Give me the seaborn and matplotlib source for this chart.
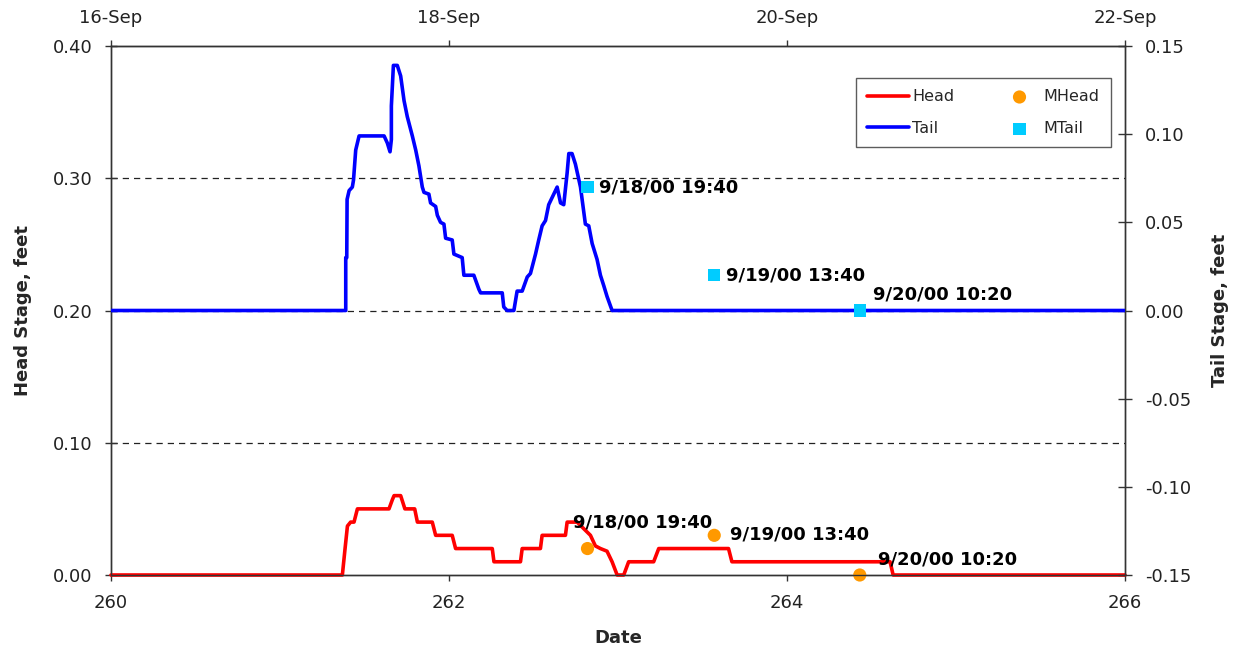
import numpy as np
import pandas as pd
import matplotlib
matplotlib.use("Agg")
import matplotlib.pyplot as plt
import seaborn as sns

# Tail (downstream) stage record, day of year 2000 vs feet
tail_day = [260.000, 261.389, 261.389, 261.395, 261.397, 261.409, 261.428, 261.435,
            261.448, 261.468, 261.616, 261.635, 261.651, 261.659, 261.659, 261.671,
            261.694, 261.714, 261.734, 261.753, 261.783, 261.803, 261.822, 261.842,
            261.852, 261.881, 261.891, 261.921, 261.931, 261.950, 261.970, 261.980,
            262.019, 262.029, 262.078, 262.088, 262.147, 262.177, 262.187, 262.315,
            262.324, 262.344, 262.384, 262.403, 262.433, 262.463, 262.482, 262.512,
            262.531, 262.551, 262.571, 262.590, 262.620, 262.640, 262.660, 262.679,
            262.699, 262.709, 262.728, 262.748, 262.778, 262.807, 262.827, 262.847,
            262.876, 262.896, 262.916, 262.935, 262.965, 266.000]
tail_ft = [0.000, 0.000, 0.030, 0.030, 0.063, 0.068, 0.070, 0.074,
           0.091, 0.099, 0.099, 0.095, 0.090, 0.097, 0.116, 0.139,
           0.139, 0.133, 0.119, 0.110, 0.099, 0.091, 0.082, 0.070,
           0.067, 0.066, 0.061, 0.059, 0.054, 0.050, 0.049, 0.041,
           0.040, 0.032, 0.030, 0.020, 0.020, 0.012, 0.010, 0.010,
           0.002, 0.000, 0.000, 0.011, 0.011, 0.019, 0.021, 0.032,
           0.040, 0.048, 0.051, 0.060, 0.066, 0.070, 0.061, 0.060,
           0.078, 0.089, 0.089, 0.083, 0.070, 0.049, 0.048, 0.038,
           0.029, 0.020, 0.014, 0.008, 0.000, 0.000]

# Head (upstream) stage record, day of year 2000 vs feet
head_day = [260.000, 261.369, 261.385, 261.399, 261.418, 261.438, 261.458, 261.645,
            261.665, 261.675, 261.714, 261.739, 261.797, 261.813, 261.901, 261.921,
            262.019, 262.039, 262.256, 262.266, 262.423, 262.433, 262.541, 262.551,
            262.689, 262.699, 262.758, 262.837, 262.866, 262.896, 262.935, 262.965,
            262.995, 263.034, 263.063, 263.211, 263.241, 263.654, 263.674, 264.610,
            264.628, 266.000]
head_ft = [0.000, 0.000, 0.020, 0.037, 0.040, 0.040, 0.050, 0.050,
           0.057, 0.060, 0.060, 0.050, 0.050, 0.040, 0.040, 0.030,
           0.030, 0.020, 0.020, 0.010, 0.010, 0.020, 0.020, 0.030,
           0.030, 0.040, 0.040, 0.030, 0.022, 0.020, 0.018, 0.010,
           0.000, 0.000, 0.010, 0.010, 0.020, 0.020, 0.010, 0.010,
           0.000, 0.000]

# Manual staff-gauge readings
meas_time = ["9/18/00 19:40", "9/19/00 13:40", "9/20/00 10:20"]
mhead_ft = [0.02, 0.03, 0.00]
mtail_ft = [0.07, 0.02, 0.00]

date_ticks = [260, 262, 264, 266]
date_labels = ["16-Sep", "18-Sep", "20-Sep", "22-Sep"]
head_ticks = [0.00, 0.10, 0.20, 0.30, 0.40]
tail_ticks = [-0.15, -0.10, -0.05, 0.00, 0.05, 0.10, 0.15]

ts = pd.to_datetime(meas_time, format="%m/%d/%y %H:%M")
meas_day = list(ts.dayofyear + (ts.hour + ts.minute / 60.0) / 24.0)

sns.set_style("white")
plt.rcParams["font.family"] = ["DejaVu Sans"]
plt.rcParams["axes.unicode_minus"] = False

TXT = "#222222"
SPINE = "#333333"

fig = plt.figure(figsize=(12.41, 6.5), dpi=100)
ax = fig.add_axes([111 / 1241, 75 / 650, 1014 / 1241, 529 / 650])
ax2 = ax.twinx()

for y in [0.1, 0.2, 0.3]:
    ax.axhline(y, color="#222222", lw=0.9, ls=(0, (5, 4)), zorder=0)

sns.lineplot(x=head_day, y=head_ft, ax=ax, color="#FF0000", lw=2.6,
             estimator=None, sort=False, label="Head", legend=False,
             clip_on=False, zorder=3)
sns.scatterplot(x=meas_day, y=mhead_ft, ax=ax, color="#FF9900", marker="o",
                s=90, edgecolor="none", label="MHead", legend=False,
                clip_on=False, zorder=5)

sns.lineplot(x=tail_day, y=tail_ft, ax=ax2, color="#0000FF", lw=2.6,
             estimator=None, sort=False, label="Tail", legend=False, zorder=3)
sns.scatterplot(x=meas_day, y=mtail_ft, ax=ax2, color="#00CCFF", marker="s",
                s=80, edgecolor="none", label="MTail", legend=False, zorder=5)

# Time-stamp callouts next to each reading
tail_off = [(12, 0), (12, 0), (13, 16)]
head_off = [(-14, 26), (16, 1), (18, 16)]
for i, t in enumerate(meas_time):
    ax2.annotate(t, (meas_day[i], mtail_ft[i]), xytext=tail_off[i],
                 textcoords="offset pixels", fontsize=13, fontweight="bold",
                 ha="left", va="center", color="black", zorder=6)
    ax.annotate(t, (meas_day[i], mhead_ft[i]), xytext=head_off[i],
                textcoords="offset pixels", fontsize=13, fontweight="bold",
                ha="left", va="center", color="black", zorder=6)

ax.set_xlim(260, 266)
ax.set_ylim(0, 0.4)
ax2.set_ylim(-0.15, 0.15)
ax.set_xticks(date_ticks)
ax.set_yticks(head_ticks)
ax2.set_yticks(tail_ticks)
ax.yaxis.set_major_formatter(matplotlib.ticker.FormatStrFormatter("%.2f"))
ax2.yaxis.set_major_formatter(matplotlib.ticker.FormatStrFormatter("%.2f"))

ax.tick_params(axis="y", left=True, direction="inout", length=8, width=1,
               pad=9.5, labelsize=13, labelcolor=TXT, color=SPINE)
ax.tick_params(axis="x", bottom=True, direction="out", length=4.5, width=1,
               pad=9.5, labelsize=13, labelcolor=TXT, color=SPINE)
ax2.tick_params(axis="y", right=True, direction="inout", length=10, width=1,
                pad=9.5, labelsize=13, labelcolor=TXT, color=SPINE)

top = ax.secondary_xaxis("top")
top.set_xticks(date_ticks, labels=date_labels)
top.tick_params(axis="x", top=True, direction="out", length=4, width=1,
                pad=10, labelsize=13, labelcolor=TXT, color=SPINE)
for s in top.spines.values():
    s.set_color(SPINE)

for a in (ax, ax2):
    for s in a.spines.values():
        s.set_color(SPINE)
        s.set_linewidth(1.0)
        s.set_visible(True)

ax.set_xlabel("Date", fontsize=13, fontweight="bold", labelpad=12)
ax.set_ylabel("Head Stage, feet", fontsize=13, fontweight="bold", labelpad=15)
ax2.set_ylabel("Tail Stage, feet", fontsize=13, fontweight="bold", labelpad=14)

h1, l1 = ax.get_legend_handles_labels()
h2, l2 = ax2.get_legend_handles_labels()
hd = dict(zip(l1 + l2, h1 + h2))
order = ["Head", "Tail", "MHead", "MTail"]
leg = ax2.legend([hd[k] for k in order], order, ncol=2, loc="upper left",
                 bbox_to_anchor=(0.7347, 0.9395), frameon=True, fancybox=False,
                 edgecolor=SPINE, fontsize=11.5, handlelength=2.6,
                 handletextpad=0.2, columnspacing=2.8, labelspacing=1.05,
                 borderpad=0.7, borderaxespad=0)
leg.get_frame().set_linewidth(1.0)
leg.get_frame().set_facecolor("white")

fig.savefig("out.png", dpi=100)
